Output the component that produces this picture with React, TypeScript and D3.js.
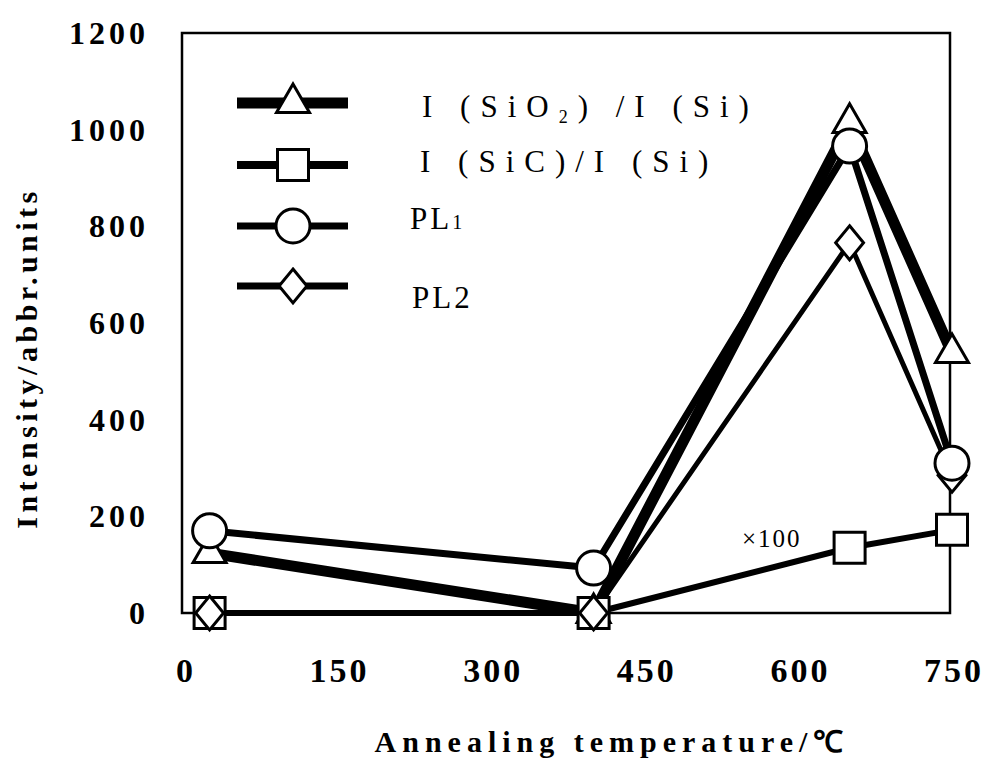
import React from "react";
import * as d3 from "d3";

// annealing temperature (first point = room temperature)
const temps = [25, 400, 650, 750];
const sio2Ratio = [124, 0, 1014, 538];
const sicRatio = [0, 0, 135, 172];
const pl1 = [170, 93, 966, 310];
const pl2 = [0, 0, 766, 285];

const xTicks = [0, 150, 300, 450, 600, 750];
const yTicks = [0, 200, 400, 600, 800, 1000, 1200];

const W = 988;
const H = 764;
const serif = "'Liberation Serif', 'Times New Roman', serif";

const x = d3.scaleLinear().domain([0, 750]).range([184, 952]);
const y = d3.scaleLinear().domain([0, 1200]).range([613, 33]);

// diamond a bit taller than wide, like the scanned markers
const diamondType = {
  draw(ctx: any, size: number) {
    const hh = Math.sqrt(size) / 2;
    const hw = hh * 0.82;
    ctx.moveTo(0, -hh);
    ctx.lineTo(hw, 0);
    ctx.lineTo(0, hh);
    ctx.lineTo(-hw, 0);
    ctx.closePath();
  },
};

const series = [
  { key: "sio2", values: sio2Ratio, symbol: d3.symbolTriangle, size: 472, width: 11 },
  { key: "pl1", values: pl1, symbol: d3.symbolCircle, size: 908, width: 7 },
  { key: "sic", values: sicRatio, symbol: d3.symbolSquare, size: 961, width: 6 },
  { key: "pl2", values: pl2, symbol: diamondType, size: 1156, width: 5 },
];
// markers: circle drawn last so it sits over the triangle
const markerOrder = ["sio2", "sic", "pl2", "pl1"];

const legendRows = [
  { key: "sio2", ly: 103, ty: 117, lw: 11 },
  { key: "sic", ly: 165, ty: 172, lw: 8 },
  { key: "pl1", ly: 226, ty: 229, lw: 7 },
  { key: "pl2", ly: 286, ty: 308, lw: 7 },
];

const line = d3
  .line<number>()
  .x((_, i) => x(temps[i]))
  .y((d) => y(d));

function symPath(s: any) {
  return d3.symbol().type(s.symbol).size(s.size)() as string;
}

function LegendLabel({ k, ty }: { k: string; ty: number }) {
  const common = {
    fontFamily: serif,
    fontSize: 31,
    letterSpacing: 10,
    fill: "#000",
    xmlSpace: "preserve" as any,
  };
  if (k === "sio2")
    return (
      <text x={422} y={ty} {...common}>
        I (SiO<tspan fontSize={18} dy={6}>2</tspan>
        <tspan dy={-6}>) /I (Si)</tspan>
      </text>
    );
  if (k === "sic")
    return (
      <text x={420} y={ty} {...common}>
        I (SiC)/I (Si)
      </text>
    );
  if (k === "pl1")
    return (
      <text x={410} y={ty} {...common} letterSpacing={3}>
        PL<tspan fontSize={20}>1</tspan>
      </text>
    );
  return (
    <text x={412} y={ty} {...common} letterSpacing={3}>
      PL2
    </text>
  );
}

export default function App() {
  const byKey: any = {};
  series.forEach((s) => (byKey[s.key] = s));

  return (
    <svg
      width={W}
      height={H}
      style={{ position: "absolute", left: 0, top: 0, background: "#fff" }}
    >
      {/* plot frame */}
      <rect
        x={x(0) - 2}
        y={y(1200)}
        width={x(750) - x(0)}
        height={y(0) - y(1200)}
        fill="none"
        stroke="#000"
        strokeWidth={2.5}
      />

      {/* y tick labels */}
      {yTicks.map((t) => (
        <text
          key={"y" + t}
          x={149}
          y={y(t)}
          textAnchor="end"
          dominantBaseline="central"
          fontFamily={serif}
          fontWeight="bold"
          fontSize={32}
          letterSpacing={4}
        >
          {t}
        </text>
      ))}

      {/* x tick labels */}
      {xTicks.map((t) => (
        <text
          key={"x" + t}
          x={x(t) + 2}
          y={682}
          textAnchor="middle"
          fontFamily={serif}
          fontWeight="bold"
          fontSize={34}
          letterSpacing={3}
        >
          {t}
        </text>
      ))}

      {/* axis titles */}
      <text
        transform="translate(37,358) rotate(-90)"
        textAnchor="middle"
        fontFamily={serif}
        fontWeight="bold"
        fontSize={30}
        letterSpacing={4.5}
      >
        Intensity/abbr.units
      </text>
      <text
        x={612}
        y={752}
        textAnchor="middle"
        fontFamily={serif}
        fontWeight="bold"
        fontSize={30}
        letterSpacing={6}
      >
        Annealing temperature/℃
      </text>

      {/* series lines */}
      {series.map((s) => (
        <path
          key={"l" + s.key}
          d={line(s.values) as string}
          fill="none"
          stroke="#000"
          strokeWidth={s.width}
          strokeLinejoin="round"
        />
      ))}

      {/* markers */}
      {markerOrder.map((k) =>
        byKey[k].values.map((v: number, i: number) => (
          <path
            key={k + i}
            d={symPath(byKey[k])}
            transform={`translate(${x(temps[i])},${y(v)})`}
            fill="#fff"
            stroke="#000"
            strokeWidth={3}
          />
        ))
      )}

      <text
        x={742}
        y={547}
        fontFamily={serif}
        fontSize={25}
        letterSpacing={2}
      >
        ×100
      </text>

      {/* legend */}
      {legendRows.map((r) => (
        <g key={"lg" + r.key}>
          <line
            x1={237}
            x2={348}
            y1={r.ly}
            y2={r.ly}
            stroke="#000"
            strokeWidth={r.lw}
          />
          <path
            d={symPath(byKey[r.key])}
            transform={`translate(293,${r.ly})`}
            fill="#fff"
            stroke="#000"
            strokeWidth={3}
          />
          <LegendLabel k={r.key} ty={r.ty} />
        </g>
      ))}
    </svg>
  );
}
